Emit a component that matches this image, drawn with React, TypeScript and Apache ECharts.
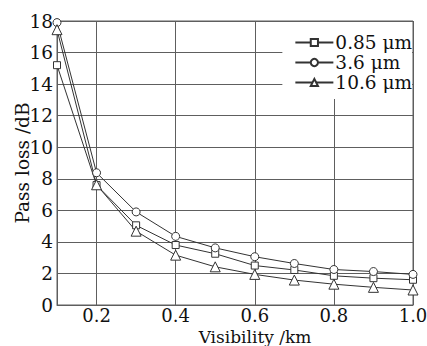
import React, { useEffect, useRef } from "react";
import * as echarts from "echarts";

const visibility = [0.1, 0.2, 0.3, 0.4, 0.5, 0.6, 0.7, 0.8, 0.9, 1.0];
const loss085 = [15.2, 7.6, 5.05, 3.8, 3.25, 2.5, 2.22, 1.85, 1.7, 1.6];
const loss36 = [17.9, 8.38, 5.9, 4.35, 3.62, 3.06, 2.63, 2.25, 2.12, 1.94];
const loss106 = [17.45, 7.62, 4.68, 3.16, 2.42, 1.94, 1.58, 1.32, 1.12, 0.95];
const seriesNames = ["0.85 μm", "3.6 μm", "10.6 μm"];
const yTicks = { min: 0, max: 18, interval: 2 };

const FONT = "DejaVu Serif";
const INK = "#333";
const GRID = "#5e5e5e";
const TEXT = "#111";

export default function App() {
  const ref = useRef<HTMLDivElement>(null);
  useEffect(() => {
    if (!ref.current) return;
    const chart = echarts.init(ref.current, null, { renderer: "svg" });
    const mk = (name: string, vals: number[], symbol: string, size: number) => ({
      name,
      type: "line",
      data: visibility.map((x, i) => [x, vals[i]]),
      symbol,
      symbolSize: size,
      showAllSymbol: true,
      lineStyle: { color: INK, width: 1 },
      itemStyle: { color: "#fff", borderColor: INK, borderWidth: 1 },
      emphasis: { disabled: true },
    });
    chart.setOption({
      animation: false,
      backgroundColor: "#fff",
      textStyle: { fontFamily: FONT },
      grid: {
        left: 57,
        right: 14,
        top: 21,
        bottom: 41,
        containLabel: false,
        outerBoundsMode: "none",
        show: true,
        borderColor: GRID,
        borderWidth: 1,
        backgroundColor: "transparent",
      },
      legend: {
        data: seriesNames,
        orient: "vertical",
        right: 15,
        top: 22,
        backgroundColor: "#fff",
        padding: [11, 0, 7, 12],
        itemWidth: 38,
        itemHeight: 9,
        itemGap: 1,
        textStyle: { fontFamily: FONT, fontSize: 18.5, color: TEXT, padding: [0, 0, 0, -3] },
        z: 10,
      },
      xAxis: {
        type: "value",
        min: 0.1,
        max: 1.0,
        interval: 0.1,
        name: "Visibility /km",
        nameLocation: "middle",
        nameMoveOverlap: false,
        nameGap: 23,
        nameTextStyle: {
          fontFamily: FONT,
          fontSize: 17,
          lineHeight: 17,
          color: TEXT,
          padding: [0, 0, 0, 40],
        },
        axisLine: { lineStyle: { color: GRID } },
        axisTick: { show: false },
        axisLabel: {
          fontFamily: FONT,
          fontSize: 18,
          lineHeight: 18,
          color: TEXT,
          margin: 1.5,
          formatter: (v: number) => (Math.round(v * 10) % 2 === 0 ? v.toFixed(1) : ""),
        },
        splitLine: { show: true, lineStyle: { color: ["rgba(0,0,0,0)", GRID], width: 1 } },
      },
      yAxis: {
        type: "value",
        min: yTicks.min,
        max: yTicks.max,
        interval: yTicks.interval,
        name: "Pass loss /dB",
        nameLocation: "middle",
        nameMoveOverlap: false,
        nameGap: 25,
        nameTextStyle: { fontFamily: FONT, fontSize: 18.5, color: TEXT },
        axisLine: { show: true, lineStyle: { color: GRID } },
        axisTick: { show: false },
        axisLabel: { fontFamily: FONT, fontSize: 18.5, color: TEXT, margin: 4 },
        splitLine: { show: true, lineStyle: { color: GRID, width: 1 } },
      },
      series: [
        mk(seriesNames[0], loss085, "rect", 7),
        mk(seriesNames[1], loss36, "circle", 8),
        mk(seriesNames[2], loss106, "triangle", 10),
      ],
    });
    return () => chart.dispose();
  }, []);
  return (
    <div
      ref={ref}
      style={{ position: "fixed", left: 0, top: 0, width: 427, height: 346 }}
    />
  );
}
